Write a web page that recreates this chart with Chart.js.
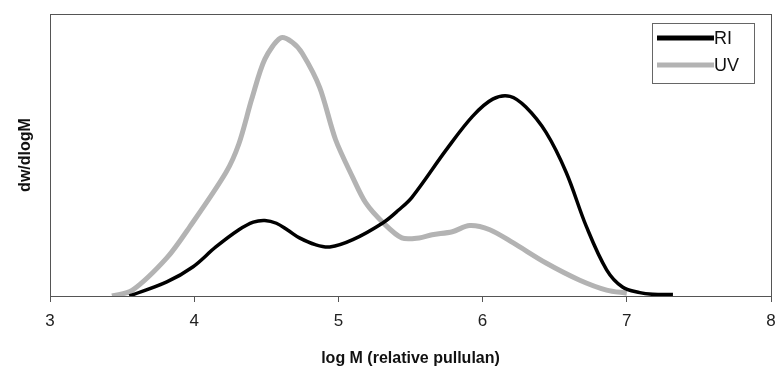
<!DOCTYPE html>
<html>
<head>
<meta charset="utf-8">
<script src="https://cdn.jsdelivr.net/npm/chart.js@4/dist/chart.umd.min.js"></script>
<style>
  html, body { margin: 0; padding: 0; background: #fff; }
  #wrap { width: 777px; height: 368px; }
</style>
</head>
<body>
<div id="wrap"><canvas id="chart"></canvas></div>
<script>
// log M positions and dw/dlogM (arbitrary units, 0-100)
const riX = [3.55, 3.81, 3.99, 4.15, 4.31, 4.41, 4.49, 4.57, 4.65, 4.73, 4.84, 4.94, 5.10, 5.31, 5.42, 5.51, 5.75, 5.93, 6.07, 6.19, 6.30, 6.44, 6.58, 6.72, 6.86, 6.97, 7.09, 7.18, 7.32];
const riY = [0, 5, 10.3, 17.4, 23.5, 26.2, 26.8, 25.8, 23.3, 20.6, 18.2, 17.4, 20, 26, 30.6, 35, 52, 63.7, 69.8, 70.8, 67, 58, 43.8, 24.6, 9.3, 3.2, 1.2, 0.6, 0.5];

const uvX = [3.43, 3.57, 3.81, 3.97, 4.22, 4.31, 4.40, 4.49, 4.60, 4.68, 4.75, 4.87, 4.98, 5.10, 5.19, 5.31, 5.44, 5.56, 5.65, 5.79, 5.91, 6.05, 6.21, 6.44, 6.67, 6.86, 7.0];
const uvY = [0, 2, 13.5, 24.6, 43.8, 54, 70, 84, 91.5, 90, 86, 74, 55.5, 42, 33, 26, 20.6, 20.6, 21.7, 22.8, 25, 23.5, 18.9, 11.7, 5.7, 2.1, 1];

const xTicks = [3, 4, 5, 6, 7, 8];

function toPoints(xs, ys) {
  return xs.map((x, i) => ({ x: x, y: ys[i] }));
}

// Rahmen um den Plot und Legende innerhalb des Plots
const framePlugin = {
  id: 'frame',
  afterDraw(chart) {
    const ctx = chart.ctx;
    const a = chart.chartArea;
    ctx.save();
    ctx.strokeStyle = '#555';
    ctx.lineWidth = 1;
    ctx.strokeRect(a.left + 0.5, a.top + 0.5, a.right - a.left, a.bottom - a.top);

    // legend box
    const bx = 652, by = 23, bw = 102, bh = 60;
    ctx.fillStyle = '#fff';
    ctx.fillRect(bx, by, bw, bh);
    ctx.strokeStyle = '#666';
    ctx.strokeRect(bx + 0.5, by + 0.5, bw, bh);
    ctx.font = '18px "Liberation Sans", Arial, sans-serif';
    ctx.textBaseline = 'middle';
    chart.data.datasets.forEach((ds, i) => {
      const y = by + 15 + i * 27;
      ctx.strokeStyle = ds.borderColor;
      ctx.lineWidth = 5;
      ctx.beginPath();
      ctx.moveTo(bx + 5, y);
      ctx.lineTo(bx + 62, y);
      ctx.stroke();
      ctx.fillStyle = '#111';
      ctx.fillText(ds.label, bx + 62, y + 1);
    });
    ctx.restore();
  }
};

new Chart(document.getElementById('chart'), {
  type: 'scatter',
  data: {
    datasets: [
      {
        label: 'RI',
        data: toPoints(riX, riY),
        showLine: true,
        borderColor: '#000',
        borderWidth: 3.5,
        pointRadius: 0,
        tension: 0.35
      },
      {
        label: 'UV',
        data: toPoints(uvX, uvY),
        showLine: true,
        borderColor: '#b3b3b3',
        borderWidth: 5,
        pointRadius: 0,
        tension: 0.3
      }
    ]
  },
  options: {
    responsive: true,
    maintainAspectRatio: false,
    animation: false,
    layout: { padding: { top: 14, right: 6, left: 0, bottom: 0 } },
    plugins: {
      legend: { display: false },
      tooltip: { enabled: false }
    },
    scales: {
      x: {
        type: 'linear',
        min: 3,
        max: 8,
        afterBuildTicks: (axis) => { axis.ticks = xTicks.map(v => ({ value: v })); },
        afterFit: (axis) => {
          axis.height = 72;
          axis.paddingLeft = 0;
          axis.paddingRight = 0;
        },
        grid: { drawOnChartArea: false, tickLength: 6, color: '#555' },
        border: { color: '#555' },
        ticks: {
          color: '#222',
          padding: 9,
          font: { family: '"Liberation Sans", Arial, sans-serif', size: 17 }
        },
        title: {
          display: true,
          text: 'log M (relative pullulan)',
          color: '#111',
          padding: { top: 4, bottom: 0 },
          font: { family: '"Liberation Sans", Arial, sans-serif', size: 16, weight: 'bold' }
        }
      },
      y: {
        min: 0,
        max: 100,
        afterFit: (axis) => { axis.width = 50; },
        grid: { display: false },
        border: { color: '#555' },
        ticks: { display: false },
        title: {
          display: true,
          text: 'dw/dlogM',
          color: '#111',
          padding: { top: 16, bottom: 0 },
          font: { family: '"Liberation Sans", Arial, sans-serif', size: 16, weight: 'bold' }
        }
      }
    }
  },
  plugins: [framePlugin]
});
</script>
</body>
</html>
